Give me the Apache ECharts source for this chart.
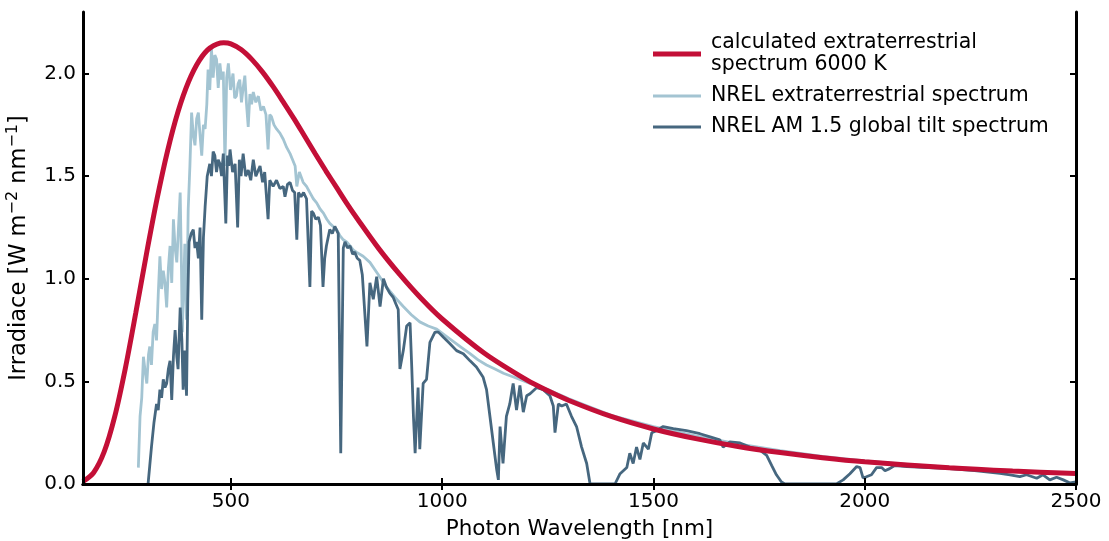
<!DOCTYPE html>
<html>
<head>
<meta charset="utf-8">
<script src="https://cdn.jsdelivr.net/npm/echarts@6/dist/echarts.min.js"></script>
<style>
  html, body { margin: 0; padding: 0; background: #fff; }
  #chart { width: 1109px; height: 541px; }
</style>
</head>
<body>
<div id="chart"></div>
<script>
// [wavelength nm, irradiance W m-2 nm-1]
const calc6000K = [
  [150, 0.012], [175, 0.055], [200, 0.156], [225, 0.328], [250, 0.562], [275, 0.835],
  [300, 1.119], [325, 1.387], [350, 1.622], [375, 1.815], [400, 1.961], [425, 2.063],
  [450, 2.124], [483, 2.150], [500, 2.145], [525, 2.116], [550, 2.068], [575, 2.007],
  [600, 1.936], [625, 1.858], [650, 1.778], [675, 1.693], [700, 1.608], [725, 1.525],
  [750, 1.445], [775, 1.365], [800, 1.290], [850, 1.147], [900, 1.020], [950, 0.905],
  [1000, 0.804], [1100, 0.637], [1200, 0.507], [1250, 0.454], [1300, 0.407], [1400, 0.329],
  [1500, 0.268], [1600, 0.221], [1700, 0.183], [1800, 0.153], [1900, 0.128], [2000, 0.108],
  [2200, 0.079], [2350, 0.063], [2500, 0.051]
];

const nrelExtra = [
  [281, 0.08], [285, 0.33], [289, 0.42], [293, 0.62], [297, 0.55], [301, 0.49], [305, 0.63],
  [308, 0.67], [312, 0.58], [316, 0.74], [320, 0.78], [324, 0.70], [328, 0.92], [332, 1.11],
  [336, 0.95], [340, 1.04], [344, 0.98], [348, 0.86], [352, 1.05], [356, 1.16], [360, 0.98],
  [364, 1.29], [368, 1.15], [372, 1.08], [376, 1.25], [380, 1.42], [383, 1.05], [385, 0.74],
  [388, 0.95], [391, 1.17], [395, 0.80], [399, 1.34], [403, 1.55], [407, 1.81], [411, 1.70],
  [415, 1.65], [419, 1.78], [423, 1.81], [427, 1.70], [431, 1.60], [435, 1.75], [439, 1.73],
  [443, 1.85], [446, 2.02], [450, 1.92], [454, 2.12], [458, 1.98], [462, 2.09], [466, 2.07],
  [470, 1.93], [474, 2.05], [478, 1.97], [482, 2.01], [486, 1.55], [490, 1.98], [494, 2.05],
  [499, 1.92], [505, 2.00], [509, 1.88], [513, 1.89], [517, 1.95], [521, 1.97], [525, 1.86],
  [529, 1.93], [533, 1.99], [537, 1.85], [541, 1.74], [545, 1.90], [549, 1.85], [553, 1.91],
  [559, 1.86], [565, 1.89], [571, 1.82], [577, 1.84], [583, 1.80], [588, 1.63], [592, 1.80],
  [596, 1.79], [602, 1.75], [608, 1.73], [616, 1.71], [624, 1.68], [632, 1.64], [640, 1.61],
  [646, 1.58], [652, 1.55], [656, 1.45], [662, 1.52], [671, 1.47], [679, 1.45], [687, 1.42],
  [695, 1.39], [703, 1.37], [711, 1.34], [719, 1.32], [727, 1.29], [734, 1.27], [742, 1.255],
  [750, 1.24], [758, 1.21], [766, 1.19], [774, 1.18], [782, 1.16], [790, 1.14], [797, 1.13],
  [813, 1.11], [829, 1.08], [849, 1.02], [868, 0.96], [888, 0.91], [908, 0.865], [927, 0.825],
  [947, 0.79], [967, 0.77], [987, 0.755], [1006, 0.725], [1026, 0.695], [1046, 0.665],
  [1066, 0.635], [1085, 0.605], [1105, 0.58], [1125, 0.56], [1145, 0.54], [1164, 0.525],
  [1184, 0.51], [1208, 0.49], [1250, 0.46], [1300, 0.415], [1400, 0.335], [1500, 0.28],
  [1600, 0.235], [1700, 0.195], [1800, 0.162], [1900, 0.135], [2000, 0.112], [2100, 0.095],
  [2200, 0.082], [2300, 0.07], [2400, 0.06], [2500, 0.052]
];

const nrelAm15 = [
  [304, 0.0], [308, 0.09], [312, 0.18], [318, 0.30], [324, 0.39], [328, 0.36], [332, 0.46],
  [336, 0.42], [340, 0.51], [344, 0.47], [348, 0.49], [352, 0.56], [356, 0.60], [360, 0.41],
  [364, 0.62], [368, 0.75], [372, 0.62], [375, 0.56], [380, 0.86], [384, 0.70], [387, 0.46],
  [391, 0.65], [395, 0.43], [398, 0.90], [401, 1.18], [406, 1.22], [411, 1.24], [415, 1.15],
  [419, 1.18], [423, 1.10], [427, 1.25], [431, 0.80], [435, 1.20], [439, 1.35], [444, 1.50],
  [450, 1.56], [454, 1.50], [458, 1.62], [462, 1.60], [466, 1.52], [470, 1.58], [474, 1.56],
  [478, 1.50], [482, 1.61], [488, 1.27], [492, 1.60], [495, 1.55], [498, 1.63], [504, 1.52],
  [510, 1.56], [516, 1.25], [520, 1.58], [524, 1.50], [529, 1.61], [535, 1.50], [541, 1.53],
  [547, 1.48], [553, 1.58], [559, 1.50], [565, 1.53], [569, 1.55], [575, 1.47], [580, 1.52],
  [588, 1.29], [592, 1.48], [600, 1.45], [608, 1.48], [616, 1.44], [624, 1.45], [628, 1.40],
  [634, 1.46], [640, 1.47], [646, 1.43], [651, 1.42], [656, 1.19], [660, 1.42], [666, 1.40],
  [672, 1.42], [679, 1.39], [687, 0.96], [691, 1.33], [695, 1.32], [701, 1.29], [707, 1.30],
  [712, 1.26], [718, 0.96], [722, 1.10], [726, 1.16], [734, 1.24], [740, 1.22], [746, 1.255],
  [754, 1.22], [760, 0.15], [766, 1.15], [770, 1.18], [776, 1.15], [782, 1.16], [788, 1.12],
  [793, 1.13], [799, 1.10], [805, 1.09], [811, 1.02], [817, 0.83], [822, 0.67], [826, 0.85],
  [829, 0.98], [837, 0.90], [845, 1.01], [853, 0.865], [861, 1.0], [868, 0.96], [876, 0.93],
  [884, 0.91], [890, 0.88], [896, 0.85], [900, 0.56], [908, 0.65], [916, 0.77], [924, 0.785],
  [928, 0.57], [932, 0.33], [936, 0.15], [943, 0.47], [947, 0.17], [955, 0.49], [963, 0.51],
  [971, 0.69], [983, 0.74], [991, 0.74], [1003, 0.715], [1018, 0.685], [1034, 0.65],
  [1050, 0.635], [1066, 0.60], [1081, 0.57], [1097, 0.52], [1105, 0.46], [1113, 0.33],
  [1121, 0.20], [1129, 0.07], [1133, 0.02], [1137, 0.28], [1144, 0.10], [1152, 0.33],
  [1160, 0.39], [1168, 0.49], [1176, 0.36], [1184, 0.48], [1192, 0.35], [1200, 0.43],
  [1208, 0.44], [1224, 0.47], [1239, 0.46], [1255, 0.43], [1263, 0.38], [1267, 0.25],
  [1275, 0.39], [1283, 0.38], [1294, 0.39], [1306, 0.33], [1318, 0.28], [1330, 0.18],
  [1342, 0.10], [1350, 0.0], [1409, 0.0], [1421, 0.05], [1437, 0.08], [1444, 0.15],
  [1452, 0.10], [1460, 0.18], [1468, 0.12], [1476, 0.20], [1488, 0.17], [1496, 0.25],
  [1507, 0.26], [1523, 0.28], [1547, 0.27], [1578, 0.26], [1610, 0.245], [1634, 0.23],
  [1657, 0.215], [1665, 0.18], [1681, 0.205], [1705, 0.20], [1728, 0.18], [1752, 0.165],
  [1768, 0.14], [1780, 0.09], [1791, 0.045], [1803, 0.01], [1811, 0.0], [1933, 0.0],
  [1949, 0.02], [1965, 0.05], [1981, 0.085], [1989, 0.08], [1996, 0.03], [2004, 0.035],
  [2016, 0.045], [2028, 0.08], [2040, 0.08], [2048, 0.065], [2059, 0.075], [2071, 0.09],
  [2100, 0.085], [2200, 0.075], [2260, 0.065], [2320, 0.052], [2344, 0.045], [2367, 0.036],
  [2383, 0.045], [2407, 0.028], [2422, 0.045], [2438, 0.02], [2454, 0.033], [2470, 0.02],
  [2486, 0.005], [2500, 0.01]
];

const xTicks = [500, 1000, 1500, 2000, 2500];
const yTicks = [0, 0.5, 1.0, 1.5, 2.0];

const RED = "#c30f37";
const LIGHT = "#a3c4d2";
const DARK = "#46677f";
const FONT = "DejaVu Sans";

const NAME_CALC = "calculated extraterrestrial\nspectrum 6000 K";
const NAME_EXTRA = "NREL extraterrestrial spectrum";
const NAME_AM15 = "NREL AM 1.5 global tilt spectrum";

const chart = echarts.init(document.getElementById("chart"));

const tickStyle = { show: true, inside: true, length: 6, lineStyle: { color: "#000", width: 2 } };
const lineAxis = { show: true, lineStyle: { color: "#000", width: 3 } };

chart.setOption({
  animation: false,
  backgroundColor: "#fff",
  textStyle: { fontFamily: FONT },
  grid: { left: 83, right: 33, top: 12, bottom: 57, outerBoundsMode: "none", containLabel: false },
  legend: {
    orient: "vertical",
    left: 648,
    top: 27,
    itemWidth: 48,
    itemHeight: 14,
    itemGap: 9,
    data: [
      { name: NAME_CALC, icon: "path://M0,0H48V5H0Z" },
      { name: NAME_EXTRA, icon: "path://M0,0H48V3H0Z" },
      { name: NAME_AM15, icon: "path://M0,0H48V3H0Z" }
    ],
    textStyle: { fontFamily: FONT, fontSize: 20.5, color: "#000", lineHeight: 22, padding: [0, 0, 0, 5] }
  },
  xAxis: [
    {
      type: "value", min: 150, max: 2500, z: 5,
      axisLine: lineAxis,
      axisTick: Object.assign({ customValues: xTicks }, tickStyle),
      axisLabel: {
        customValues: xTicks, color: "#000", fontSize: 20, margin: 8, fontFamily: FONT,
        formatter: v => String(v)
      },
      splitLine: { show: false },
      name: "Photon Wavelength [nm]", nameLocation: "middle", nameGap: 34,
      nameTextStyle: { fontSize: 21.5, color: "#000", fontFamily: FONT }
    },
    {
      type: "value", min: 150, max: 2500, position: "top", z: 5,
      axisLine: lineAxis,
      axisTick: Object.assign({ customValues: xTicks }, tickStyle),
      axisLabel: { show: false }, splitLine: { show: false }
    }
  ],
  yAxis: [
    {
      type: "value", min: 0, max: 2.3, z: 5,
      axisLine: lineAxis,
      axisTick: Object.assign({ customValues: yTicks }, tickStyle),
      axisLabel: {
        customValues: yTicks, color: "#000", fontSize: 20, margin: 7, fontFamily: FONT,
        formatter: v => v.toFixed(1)
      },
      splitLine: { show: false },
      name: "Irradiace [W m{sup|\u22122} nm{sup|\u22121}]", nameLocation: "middle", nameGap: 41,
      nameRotate: 90,
      nameTextStyle: {
        fontSize: 22.5, color: "#000", fontFamily: FONT, lineHeight: 28,
        rich: {
          sup: { fontSize: 16, color: "#000", fontFamily: FONT, verticalAlign: "top", lineHeight: 16 }
        }
      }
    },
    {
      type: "value", min: 0, max: 2.3, position: "right", z: 5,
      axisLine: lineAxis,
      axisTick: Object.assign({ customValues: yTicks }, tickStyle),
      axisLabel: { show: false }, splitLine: { show: false }
    }
  ],
  series: [
    {
      name: NAME_EXTRA, type: "line", data: nrelExtra, symbol: "none",
      lineStyle: { color: LIGHT, width: 2.8 }, itemStyle: { color: LIGHT }, z: 2
    },
    {
      name: NAME_AM15, type: "line", data: nrelAm15, symbol: "none",
      lineStyle: { color: DARK, width: 2.8 }, itemStyle: { color: DARK }, z: 3
    },
    {
      name: NAME_CALC, type: "line", data: calc6000K, symbol: "none", smooth: 0.3,
      lineStyle: { color: RED, width: 5 }, itemStyle: { color: RED }, z: 4
    }
  ]
});
</script>
</body>
</html>
